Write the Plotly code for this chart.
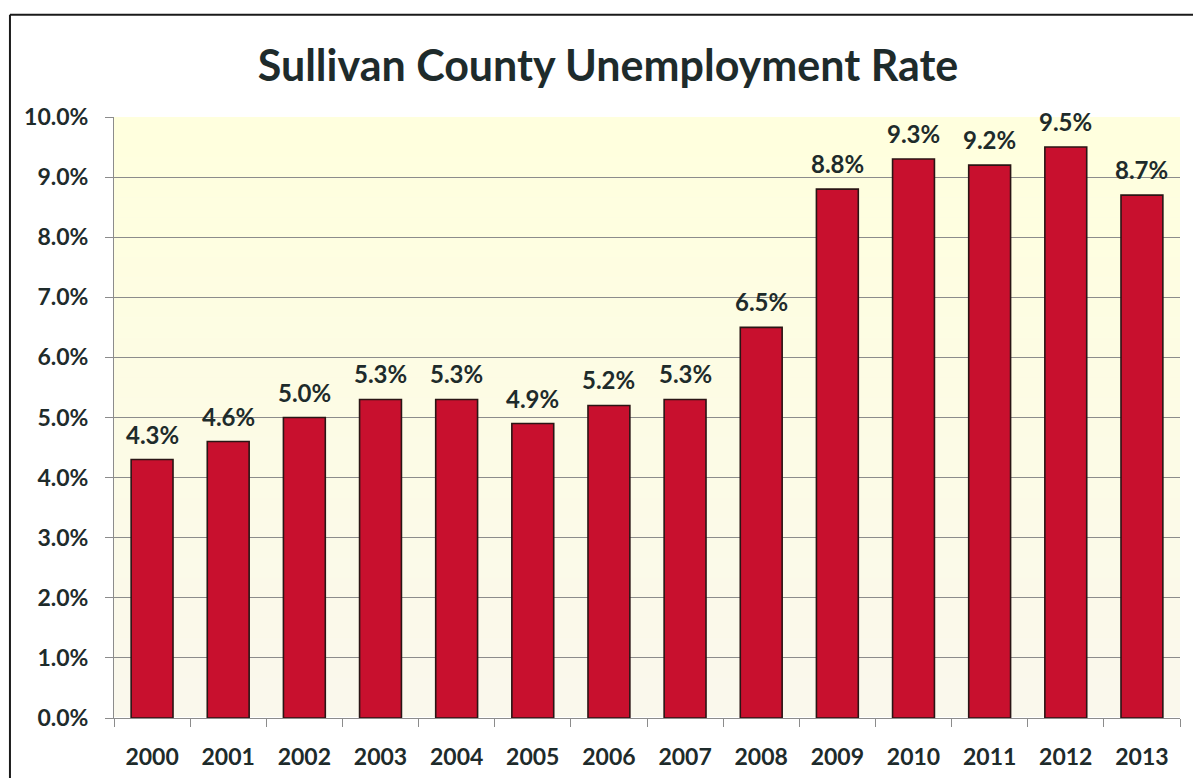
import plotly.graph_objects as go

years = ["2000", "2001", "2002", "2003", "2004", "2005", "2006", "2007",
         "2008", "2009", "2010", "2011", "2012", "2013"]
rates = [4.3, 4.6, 5.0, 5.3, 5.3, 4.9, 5.2, 5.3, 6.5, 8.8, 9.3, 9.2, 9.5, 8.7]
labels = [f"{v:.1f}%" for v in rates]
y_ticks = [i for i in range(0, 11)]
y_tick_text = [f"{v:.1f}%" for v in y_ticks]

TXT = "#1E2B2B"
FONT = "Lato"
GRID = "#8C8C8C"

fig = go.Figure(go.Bar(
    x=years, y=rates,
    marker=dict(color="#C8102E", line=dict(color="#2A1515", width=1.6)),
))

# data labels above bars (category index positions on the category axis)
annotations = [
    dict(x=i, y=v, xref="x", yref="y", text=f"<b>{lab}</b>", showarrow=False,
         yanchor="bottom", yshift=9,
         font=dict(family=FONT, size=24, color=TXT))
    for i, (v, lab) in enumerate(zip(rates, labels))
]

# soft vertical gradient for plot background (yellow at top to cream at bottom)
shapes = []
n = 30
top = (255, 255, 222)
bot = (250, 248, 236)
for i in range(n):
    t = i / (n - 1)
    c = tuple(round(bot[k] + (top[k] - bot[k]) * t) for k in range(3))
    shapes.append(dict(type="rect", xref="paper", yref="paper",
                       x0=0, x1=1, y0=i / n, y1=(i + 1) / n,
                       fillcolor=f"rgb{c}", line=dict(width=0), layer="below"))

# outer chart border: only left and top edges are visible in the reference
shapes.append(dict(type="line", xref="paper", yref="paper",
                   x0=-0.0976, x1=-0.0976, y0=-0.2, y1=1.17,
                   line=dict(color="#1A1A1A", width=2), layer="above"))
shapes.append(dict(type="line", xref="paper", yref="paper",
                   x0=-0.0976, x1=1.02, y0=1.17, y1=1.17,
                   line=dict(color="#1A1A1A", width=2), layer="above"))

fig.update_layout(
    width=1193, height=778,
    margin=dict(l=114, r=13, t=117, b=60, autoexpand=False),
    paper_bgcolor="white",
    plot_bgcolor="#FCFBE6",
    bargap=0.45,
    showlegend=False,
    title=dict(text="<b>Sullivan County Unemployment Rate</b>",
               x=608 / 1193, xref="container", xanchor="center",
               y=1 - 66 / 778, yref="container", yanchor="middle",
               font=dict(family=FONT, size=43, color=TXT)),
    xaxis=dict(type="category", range=[-0.5, len(years) - 0.5],
               showline=True, linecolor=GRID, linewidth=1,
               ticks="outside", tickson="boundaries", ticklen=8, tickcolor=GRID,
               ticklabelstandoff=18, tickangle=0, automargin=False,
               tickfont=dict(family=FONT, size=23, color=TXT, weight="bold"),
               showgrid=False),
    yaxis=dict(range=[0, 10], tickvals=y_ticks, ticktext=y_tick_text,
               showline=True, linecolor=GRID, linewidth=1,
               ticks="outside", ticklen=8, tickcolor=GRID,
               ticklabelstandoff=12, automargin=False,
               gridcolor=GRID, gridwidth=1,
               tickfont=dict(family=FONT, size=23, color=TXT, weight="bold")),
    annotations=annotations,
    shapes=shapes,
)

fig.write_html("out.html")
